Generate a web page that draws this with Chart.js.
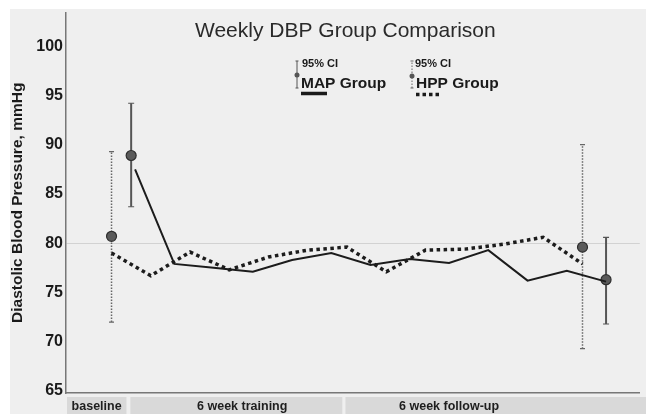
<!DOCTYPE html>
<html>
<head>
<meta charset="utf-8">
<script src="https://cdn.jsdelivr.net/npm/chart.js@4.4.1/dist/chart.umd.min.js"></script>
<style>
html,body{margin:0;padding:0;background:#fff;}
canvas{display:block;}
</style>
</head>
<body>
<canvas id="c" width="646" height="414"></canvas>
<script>
// ---- data ----
const weeks = [0, 1, 2, 3, 4, 5, 6, 7, 8, 9, 10, 11, 12];
const mapDBP = [87.5, 77.9, 77.5, 77.1, 78.3, 79.0, 77.8, 78.4, 78.0, 79.3, 76.2, 77.2, 76.1];
const hppDBP = [79.0, 76.7, 79.1, 77.3, 78.6, 79.3, 79.6, 77.1, 79.3, 79.4, 79.9, 80.6, 77.9];
// 95% CI at baseline and end of follow-up
const mapCiWeek = [0.5, 12.6];
const mapCiMean = [88.9, 76.3];
const mapCiLow = [83.7, 71.8];
const mapCiHigh = [94.2, 80.6];
const hppCiWeek = [0, 12];
const hppCiMean = [80.7, 79.6];
const hppCiLow = [72.0, 69.3];
const hppCiHigh = [89.3, 90.0];
const yTicks = [65, 70, 75, 80, 85, 90, 95, 100];
const phaseLabels = ['baseline', '6 week training', '6 week follow-up'];
const chartTitle = 'Weekly DBP Group Comparison';
const yTitle = 'Diastolic Blood Pressure, mmHg';
const seriesNames = ['MAP Group', 'HPP Group'];

const MAP_OFFSET = 0.6;
const FONT = '"Liberation Sans", Arial, sans-serif';

const bgPlugin = {
  id: 'bg',
  beforeDraw(chart) {
    const c = chart.ctx;
    c.save();
    c.fillStyle = '#ffffff';
    c.fillRect(0, 0, chart.width, chart.height);
    c.fillStyle = '#efefef';
    c.fillRect(10, 9, chart.width - 10, chart.height - 9);
    c.restore();
  }
};

function drawBar(c, x, yLo, yHi, dashed, width, cap) {
  c.save();
  c.strokeStyle = dashed ? '#666' : '#555';
  c.lineWidth = width;
  c.setLineDash(dashed ? [1.5, 1.5] : []);
  c.beginPath();
  c.moveTo(x, yLo); c.lineTo(x, yHi);
  c.stroke();
  c.setLineDash([]);
  c.lineWidth = 1.2;
  c.beginPath();
  c.moveTo(x - cap, yLo); c.lineTo(x + cap, yLo);
  c.moveTo(x - cap, yHi); c.lineTo(x + cap, yHi);
  c.stroke();
  c.restore();
}

const ciPlugin = {
  id: 'ci',
  beforeDatasetsDraw(chart) {
    const c = chart.ctx, xs = chart.scales.x, ys = chart.scales.y;
    hppCiWeek.forEach((w, i) => {
      drawBar(c, xs.getPixelForValue(w), ys.getPixelForValue(hppCiLow[i]), ys.getPixelForValue(hppCiHigh[i]), true, 1.5, 2.5);
    });
    mapCiWeek.forEach((w, i) => {
      drawBar(c, xs.getPixelForValue(w), ys.getPixelForValue(mapCiLow[i]), ys.getPixelForValue(mapCiHigh[i]), false, 2, 3);
    });
  }
};

const decoPlugin = {
  id: 'deco',
  afterDraw(chart) {
    const c = chart.ctx, xs = chart.scales.x, area = chart.chartArea;
    c.save();
    // title
    c.fillStyle = '#2a2a2a';
    c.font = '21px ' + FONT;
    c.textAlign = 'left';
    c.textBaseline = 'alphabetic';
    c.fillText(chartTitle, 195, 37);

    // legend MAP
    drawBar(c, 297, 88, 61, false, 1, 1.5);
    c.fillStyle = '#555';
    c.beginPath(); c.arc(297, 75, 2.5, 0, Math.PI * 2); c.fill();
    c.fillStyle = '#1a1a1a';
    c.font = 'bold 11px ' + FONT;
    c.fillText('95% CI', 302, 67);
    c.font = 'bold 15.5px ' + FONT;
    c.fillText(seriesNames[0], 301, 88);
    c.strokeStyle = '#1a1a1a';
    c.lineWidth = 3.5;
    c.beginPath(); c.moveTo(301, 93.5); c.lineTo(327, 93.5); c.stroke();

    // legend HPP
    drawBar(c, 412, 88, 61, true, 1, 1.5);
    c.fillStyle = '#555';
    c.beginPath(); c.arc(412, 76, 2.5, 0, Math.PI * 2); c.fill();
    c.fillStyle = '#1a1a1a';
    c.font = 'bold 11px ' + FONT;
    c.fillText('95% CI', 415, 67);
    c.font = 'bold 15.5px ' + FONT;
    c.fillText(seriesNames[1], 416, 88);
    c.strokeStyle = '#1a1a1a';
    c.lineWidth = 3.5;
    c.setLineDash([3.5, 3]);
    c.beginPath(); c.moveTo(416, 94.5); c.lineTo(441, 94.5); c.stroke();
    c.setLineDash([]);

    // phase bands under the axis
    const bands = [
      [area.left + 1, xs.getPixelForValue(0.38)],
      [xs.getPixelForValue(0.48), xs.getPixelForValue(5.88)],
      [xs.getPixelForValue(5.96), chart.width]
    ];
    const labelAt = [-0.38, 3.33, 8.6];
    c.font = 'bold 12.5px ' + FONT;
    c.textAlign = 'center';
    bands.forEach((b, i) => {
      c.fillStyle = '#d9d9d9';
      c.fillRect(b[0], 397, b[1] - b[0], chart.height - 397);
      c.fillStyle = '#1e1e1e';
      c.fillText(phaseLabels[i], xs.getPixelForValue(labelAt[i]), 410);
    });
    c.restore();
  }
};

new Chart(document.getElementById('c'), {
  type: 'line',
  data: {
    datasets: [
      {
        label: seriesNames[0],
        data: weeks.map((w, i) => ({ x: w + MAP_OFFSET, y: mapDBP[i] })),
        borderColor: '#1c1c1c', borderWidth: 2, pointRadius: 0, tension: 0, fill: false
      },
      {
        label: seriesNames[1],
        data: weeks.map((w, i) => ({ x: w, y: hppDBP[i] })),
        borderColor: '#1c1c1c', borderWidth: 3.5, borderDash: [3.5, 3.5], borderCapStyle: 'butt',
        pointRadius: 0, tension: 0, fill: false
      },
      {
        type: 'scatter', label: 'MAP CI',
        data: mapCiWeek.map((w, i) => ({ x: w, y: mapCiMean[i] })),
        pointRadius: 5, pointBackgroundColor: '#5a5a5a', pointBorderColor: '#2e2e2e', pointBorderWidth: 1.2
      },
      {
        type: 'scatter', label: 'HPP CI',
        data: hppCiWeek.map((w, i) => ({ x: w, y: hppCiMean[i] })),
        pointRadius: 5, pointBackgroundColor: '#5a5a5a', pointBorderColor: '#2e2e2e', pointBorderWidth: 1.2
      }
    ]
  },
  options: {
    responsive: false,
    animation: false,
    events: [],
    layout: { padding: { left: 0, right: 1, top: 9, bottom: 21 } },
    plugins: { legend: { display: false }, title: { display: false }, tooltip: { enabled: false } },
    scales: {
      x: {
        type: 'linear', min: -1.16, max: 13.46,
        ticks: { display: false },
        grid: { display: false, drawTicks: false },
        border: { display: true, color: '#777', width: 1.5 },
        afterFit(s) { s.height = 0; }
      },
      y: {
        min: 64.8, max: 103.4,
        afterBuildTicks(s) { s.ticks = yTicks.map(v => ({ value: v })); },
        afterFit(s) { s.width = 66; },
        ticks: {
          padding: 3,
          color: '#1a1a1a',
          font: { family: FONT, size: 16, weight: 'bold' }
        },
        grid: {
          drawTicks: false,
          color: ctx => (ctx.tick && ctx.tick.value === 80) ? '#d2d2d2' : 'rgba(0,0,0,0)',
          lineWidth: 1
        },
        border: { display: true, color: '#777', width: 1.5 },
        title: {
          display: true, text: yTitle, color: '#1a1a1a',
          font: { family: FONT, size: 15.5, weight: 'bold' },
          padding: { top: 8, bottom: 0 }
        }
      }
    }
  },
  plugins: [bgPlugin, ciPlugin, decoPlugin]
});
</script>
</body>
</html>
